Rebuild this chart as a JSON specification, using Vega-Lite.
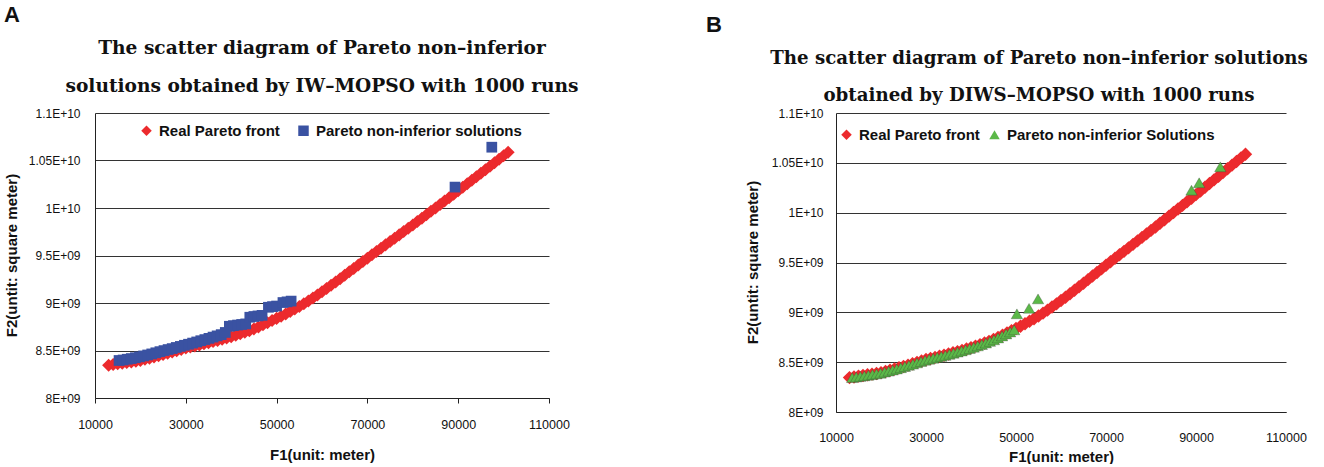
{
  "$schema": "https://vega.github.io/schema/vega-lite/v6.json",
  "background": "white",
  "padding": {"left": 3, "top": 4, "right": 0, "bottom": 0},
  "config": {
    "view": {"stroke": null},
    "axis": {
      "labelFont": "Liberation Sans", "labelFontSize": 12, "labelColor": "#111",
      "titleFont": "Liberation Sans", "titleFontSize": 15, "titleFontWeight": "bold", "titleColor": "#111",
      "gridColor": "#333", "gridWidth": 1, "domainColor": "#222", "tickColor": "#222"
    },
    "title": {"font": "DejaVu Serif", "fontWeight": "bold", "fontSize": 18.6, "color": "#111"},
    "legend": {
      "orient": "none", "direction": "horizontal", "title": null,
      "labelFont": "Liberation Sans", "labelFontWeight": "bold", "labelFontSize": 15, "labelColor": "#111",
      "labelLimit": 400, "symbolSize": 110, "labelOffset": 5, "padding": 0, "symbolStrokeWidth": 0
    }
  },
  "datasets": {
    "front": [
      {"f1": 13000, "f2": 8345000000, "series": "Real Pareto front"},
      {"f1": 14000, "f2": 8352000000, "series": "Real Pareto front"},
      {"f1": 15000, "f2": 8360000000, "series": "Real Pareto front"},
      {"f1": 16000, "f2": 8366000000, "series": "Real Pareto front"},
      {"f1": 17000, "f2": 8373000000, "series": "Real Pareto front"},
      {"f1": 18000, "f2": 8380000000, "series": "Real Pareto front"},
      {"f1": 19000, "f2": 8387000000, "series": "Real Pareto front"},
      {"f1": 20000, "f2": 8395000000, "series": "Real Pareto front"},
      {"f1": 21000, "f2": 8407000000, "series": "Real Pareto front"},
      {"f1": 22000, "f2": 8419000000, "series": "Real Pareto front"},
      {"f1": 23000, "f2": 8431000000, "series": "Real Pareto front"},
      {"f1": 24000, "f2": 8444000000, "series": "Real Pareto front"},
      {"f1": 25000, "f2": 8457000000, "series": "Real Pareto front"},
      {"f1": 26000, "f2": 8470000000, "series": "Real Pareto front"},
      {"f1": 27000, "f2": 8484000000, "series": "Real Pareto front"},
      {"f1": 28000, "f2": 8498000000, "series": "Real Pareto front"},
      {"f1": 29000, "f2": 8512000000, "series": "Real Pareto front"},
      {"f1": 30000, "f2": 8526000000, "series": "Real Pareto front"},
      {"f1": 31000, "f2": 8537000000, "series": "Real Pareto front"},
      {"f1": 32000, "f2": 8548000000, "series": "Real Pareto front"},
      {"f1": 33000, "f2": 8559000000, "series": "Real Pareto front"},
      {"f1": 34000, "f2": 8570000000, "series": "Real Pareto front"},
      {"f1": 35000, "f2": 8582000000, "series": "Real Pareto front"},
      {"f1": 36000, "f2": 8594000000, "series": "Real Pareto front"},
      {"f1": 37000, "f2": 8606000000, "series": "Real Pareto front"},
      {"f1": 38000, "f2": 8618000000, "series": "Real Pareto front"},
      {"f1": 39000, "f2": 8632000000, "series": "Real Pareto front"},
      {"f1": 40000, "f2": 8646000000, "series": "Real Pareto front"},
      {"f1": 41000, "f2": 8661000000, "series": "Real Pareto front"},
      {"f1": 42000, "f2": 8676000000, "series": "Real Pareto front"},
      {"f1": 43000, "f2": 8692000000, "series": "Real Pareto front"},
      {"f1": 44000, "f2": 8709000000, "series": "Real Pareto front"},
      {"f1": 45000, "f2": 8727000000, "series": "Real Pareto front"},
      {"f1": 46000, "f2": 8748000000, "series": "Real Pareto front"},
      {"f1": 47000, "f2": 8770000000, "series": "Real Pareto front"},
      {"f1": 48000, "f2": 8792000000, "series": "Real Pareto front"},
      {"f1": 49000, "f2": 8815000000, "series": "Real Pareto front"},
      {"f1": 50000, "f2": 8838000000, "series": "Real Pareto front"},
      {"f1": 51000, "f2": 8861000000, "series": "Real Pareto front"},
      {"f1": 52000, "f2": 8885000000, "series": "Real Pareto front"},
      {"f1": 53000, "f2": 8910000000, "series": "Real Pareto front"},
      {"f1": 54000, "f2": 8936000000, "series": "Real Pareto front"},
      {"f1": 55000, "f2": 8963000000, "series": "Real Pareto front"},
      {"f1": 56000, "f2": 8992000000, "series": "Real Pareto front"},
      {"f1": 57000, "f2": 9022000000, "series": "Real Pareto front"},
      {"f1": 58000, "f2": 9053000000, "series": "Real Pareto front"},
      {"f1": 59000, "f2": 9085000000, "series": "Real Pareto front"},
      {"f1": 60000, "f2": 9118000000, "series": "Real Pareto front"},
      {"f1": 61000, "f2": 9152000000, "series": "Real Pareto front"},
      {"f1": 62000, "f2": 9186000000, "series": "Real Pareto front"},
      {"f1": 63000, "f2": 9221000000, "series": "Real Pareto front"},
      {"f1": 64000, "f2": 9256000000, "series": "Real Pareto front"},
      {"f1": 65000, "f2": 9292000000, "series": "Real Pareto front"},
      {"f1": 66000, "f2": 9328000000, "series": "Real Pareto front"},
      {"f1": 67000, "f2": 9364000000, "series": "Real Pareto front"},
      {"f1": 68000, "f2": 9400000000, "series": "Real Pareto front"},
      {"f1": 69000, "f2": 9436000000, "series": "Real Pareto front"},
      {"f1": 70000, "f2": 9472000000, "series": "Real Pareto front"},
      {"f1": 71000, "f2": 9507000000, "series": "Real Pareto front"},
      {"f1": 72000, "f2": 9542000000, "series": "Real Pareto front"},
      {"f1": 73000, "f2": 9577000000, "series": "Real Pareto front"},
      {"f1": 74000, "f2": 9612000000, "series": "Real Pareto front"},
      {"f1": 75000, "f2": 9647000000, "series": "Real Pareto front"},
      {"f1": 76000, "f2": 9682000000, "series": "Real Pareto front"},
      {"f1": 77000, "f2": 9717000000, "series": "Real Pareto front"},
      {"f1": 78000, "f2": 9752000000, "series": "Real Pareto front"},
      {"f1": 79000, "f2": 9787000000, "series": "Real Pareto front"},
      {"f1": 80000, "f2": 9822000000, "series": "Real Pareto front"},
      {"f1": 81000, "f2": 9857000000, "series": "Real Pareto front"},
      {"f1": 82000, "f2": 9893000000, "series": "Real Pareto front"},
      {"f1": 83000, "f2": 9929000000, "series": "Real Pareto front"},
      {"f1": 84000, "f2": 9965000000, "series": "Real Pareto front"},
      {"f1": 85000, "f2": 10001000000, "series": "Real Pareto front"},
      {"f1": 86000, "f2": 10037000000, "series": "Real Pareto front"},
      {"f1": 87000, "f2": 10073000000, "series": "Real Pareto front"},
      {"f1": 88000, "f2": 10109000000, "series": "Real Pareto front"},
      {"f1": 89000, "f2": 10145000000, "series": "Real Pareto front"},
      {"f1": 90000, "f2": 10181000000, "series": "Real Pareto front"},
      {"f1": 91000, "f2": 10218000000, "series": "Real Pareto front"},
      {"f1": 92000, "f2": 10255000000, "series": "Real Pareto front"},
      {"f1": 93000, "f2": 10292000000, "series": "Real Pareto front"},
      {"f1": 94000, "f2": 10329000000, "series": "Real Pareto front"},
      {"f1": 95000, "f2": 10366000000, "series": "Real Pareto front"},
      {"f1": 96000, "f2": 10403000000, "series": "Real Pareto front"},
      {"f1": 97000, "f2": 10440000000, "series": "Real Pareto front"},
      {"f1": 98000, "f2": 10477000000, "series": "Real Pareto front"},
      {"f1": 99000, "f2": 10514000000, "series": "Real Pareto front"},
      {"f1": 100000, "f2": 10550000000, "series": "Real Pareto front"},
      {"f1": 101000, "f2": 10586000000, "series": "Real Pareto front"}
    ],
    "iw": [
      {"f1": 15300, "f2": 8395000000, "series": "Pareto non-inferior solutions"},
      {"f1": 16200, "f2": 8400000000, "series": "Pareto non-inferior solutions"},
      {"f1": 17100, "f2": 8408000000, "series": "Pareto non-inferior solutions"},
      {"f1": 18000, "f2": 8415000000, "series": "Pareto non-inferior solutions"},
      {"f1": 18900, "f2": 8424000000, "series": "Pareto non-inferior solutions"},
      {"f1": 19800, "f2": 8433000000, "series": "Pareto non-inferior solutions"},
      {"f1": 20700, "f2": 8443000000, "series": "Pareto non-inferior solutions"},
      {"f1": 21600, "f2": 8453000000, "series": "Pareto non-inferior solutions"},
      {"f1": 22500, "f2": 8464000000, "series": "Pareto non-inferior solutions"},
      {"f1": 23400, "f2": 8476000000, "series": "Pareto non-inferior solutions"},
      {"f1": 24300, "f2": 8488000000, "series": "Pareto non-inferior solutions"},
      {"f1": 25200, "f2": 8499000000, "series": "Pareto non-inferior solutions"},
      {"f1": 26100, "f2": 8510000000, "series": "Pareto non-inferior solutions"},
      {"f1": 27000, "f2": 8520000000, "series": "Pareto non-inferior solutions"},
      {"f1": 27900, "f2": 8532000000, "series": "Pareto non-inferior solutions"},
      {"f1": 28800, "f2": 8543000000, "series": "Pareto non-inferior solutions"},
      {"f1": 29700, "f2": 8555000000, "series": "Pareto non-inferior solutions"},
      {"f1": 30600, "f2": 8566000000, "series": "Pareto non-inferior solutions"},
      {"f1": 31500, "f2": 8578000000, "series": "Pareto non-inferior solutions"},
      {"f1": 32400, "f2": 8590000000, "series": "Pareto non-inferior solutions"},
      {"f1": 33300, "f2": 8603000000, "series": "Pareto non-inferior solutions"},
      {"f1": 34200, "f2": 8615000000, "series": "Pareto non-inferior solutions"},
      {"f1": 35100, "f2": 8628000000, "series": "Pareto non-inferior solutions"},
      {"f1": 36000, "f2": 8641000000, "series": "Pareto non-inferior solutions"},
      {"f1": 36900, "f2": 8654000000, "series": "Pareto non-inferior solutions"},
      {"f1": 37800, "f2": 8667000000, "series": "Pareto non-inferior solutions"},
      {"f1": 38700, "f2": 8690000000, "series": "Pareto non-inferior solutions"},
      {"f1": 39600, "f2": 8755000000, "series": "Pareto non-inferior solutions"},
      {"f1": 40500, "f2": 8762000000, "series": "Pareto non-inferior solutions"},
      {"f1": 41400, "f2": 8768000000, "series": "Pareto non-inferior solutions"},
      {"f1": 42300, "f2": 8774000000, "series": "Pareto non-inferior solutions"},
      {"f1": 43200, "f2": 8780000000, "series": "Pareto non-inferior solutions"},
      {"f1": 44100, "f2": 8850000000, "series": "Pareto non-inferior solutions"},
      {"f1": 45000, "f2": 8858000000, "series": "Pareto non-inferior solutions"},
      {"f1": 45900, "f2": 8864000000, "series": "Pareto non-inferior solutions"},
      {"f1": 46800, "f2": 8870000000, "series": "Pareto non-inferior solutions"},
      {"f1": 48200, "f2": 8955000000, "series": "Pareto non-inferior solutions"},
      {"f1": 49100, "f2": 8962000000, "series": "Pareto non-inferior solutions"},
      {"f1": 50000, "f2": 8968000000, "series": "Pareto non-inferior solutions"},
      {"f1": 51400, "f2": 9005000000, "series": "Pareto non-inferior solutions"},
      {"f1": 52300, "f2": 9012000000, "series": "Pareto non-inferior solutions"},
      {"f1": 53200, "f2": 9020000000, "series": "Pareto non-inferior solutions"},
      {"f1": 89300, "f2": 10220000000, "series": "Pareto non-inferior solutions"},
      {"f1": 97400, "f2": 10640000000, "series": "Pareto non-inferior solutions"}
    ],
    "diws": [
      {"f1": 13600, "f2": 8345000000, "series": "Pareto non-inferior Solutions"},
      {"f1": 14500, "f2": 8351000000, "series": "Pareto non-inferior Solutions"},
      {"f1": 15400, "f2": 8357000000, "series": "Pareto non-inferior Solutions"},
      {"f1": 16300, "f2": 8363000000, "series": "Pareto non-inferior Solutions"},
      {"f1": 17200, "f2": 8369000000, "series": "Pareto non-inferior Solutions"},
      {"f1": 18100, "f2": 8376000000, "series": "Pareto non-inferior Solutions"},
      {"f1": 19000, "f2": 8382000000, "series": "Pareto non-inferior Solutions"},
      {"f1": 19900, "f2": 8389000000, "series": "Pareto non-inferior Solutions"},
      {"f1": 20800, "f2": 8400000000, "series": "Pareto non-inferior Solutions"},
      {"f1": 21700, "f2": 8410000000, "series": "Pareto non-inferior Solutions"},
      {"f1": 22600, "f2": 8421000000, "series": "Pareto non-inferior Solutions"},
      {"f1": 23500, "f2": 8432000000, "series": "Pareto non-inferior Solutions"},
      {"f1": 24400, "f2": 8444000000, "series": "Pareto non-inferior Solutions"},
      {"f1": 25300, "f2": 8456000000, "series": "Pareto non-inferior Solutions"},
      {"f1": 26200, "f2": 8468000000, "series": "Pareto non-inferior Solutions"},
      {"f1": 27100, "f2": 8480000000, "series": "Pareto non-inferior Solutions"},
      {"f1": 28000, "f2": 8493000000, "series": "Pareto non-inferior Solutions"},
      {"f1": 28900, "f2": 8506000000, "series": "Pareto non-inferior Solutions"},
      {"f1": 29800, "f2": 8518000000, "series": "Pareto non-inferior Solutions"},
      {"f1": 30700, "f2": 8529000000, "series": "Pareto non-inferior Solutions"},
      {"f1": 31600, "f2": 8539000000, "series": "Pareto non-inferior Solutions"},
      {"f1": 32500, "f2": 8549000000, "series": "Pareto non-inferior Solutions"},
      {"f1": 33400, "f2": 8558000000, "series": "Pareto non-inferior Solutions"},
      {"f1": 34300, "f2": 8568000000, "series": "Pareto non-inferior Solutions"},
      {"f1": 35200, "f2": 8579000000, "series": "Pareto non-inferior Solutions"},
      {"f1": 36100, "f2": 8590000000, "series": "Pareto non-inferior Solutions"},
      {"f1": 37000, "f2": 8601000000, "series": "Pareto non-inferior Solutions"},
      {"f1": 37900, "f2": 8612000000, "series": "Pareto non-inferior Solutions"},
      {"f1": 38800, "f2": 8624000000, "series": "Pareto non-inferior Solutions"},
      {"f1": 39700, "f2": 8637000000, "series": "Pareto non-inferior Solutions"},
      {"f1": 40600, "f2": 8650000000, "series": "Pareto non-inferior Solutions"},
      {"f1": 41500, "f2": 8663000000, "series": "Pareto non-inferior Solutions"},
      {"f1": 42400, "f2": 8677000000, "series": "Pareto non-inferior Solutions"},
      {"f1": 43300, "f2": 8692000000, "series": "Pareto non-inferior Solutions"},
      {"f1": 44200, "f2": 8708000000, "series": "Pareto non-inferior Solutions"},
      {"f1": 45100, "f2": 8724000000, "series": "Pareto non-inferior Solutions"},
      {"f1": 46000, "f2": 8743000000, "series": "Pareto non-inferior Solutions"},
      {"f1": 46900, "f2": 8763000000, "series": "Pareto non-inferior Solutions"},
      {"f1": 47800, "f2": 8783000000, "series": "Pareto non-inferior Solutions"},
      {"f1": 48700, "f2": 8803000000, "series": "Pareto non-inferior Solutions"},
      {"f1": 49600, "f2": 8824000000, "series": "Pareto non-inferior Solutions"},
      {"f1": 50200, "f2": 8985000000, "series": "Pareto non-inferior Solutions"},
      {"f1": 52900, "f2": 9040000000, "series": "Pareto non-inferior Solutions"},
      {"f1": 54900, "f2": 9135000000, "series": "Pareto non-inferior Solutions"},
      {"f1": 89000, "f2": 10225000000, "series": "Pareto non-inferior Solutions"},
      {"f1": 90700, "f2": 10300000000, "series": "Pareto non-inferior Solutions"},
      {"f1": 95400, "f2": 10460000000, "series": "Pareto non-inferior Solutions"}
    ]
  },
  "spacing": 127,
  "resolve": {
    "scale": {"x": "independent", "y": "independent", "color": "independent", "shape": "independent"},
    "axis": {"x": "independent", "y": "independent"},
    "legend": {"color": "independent", "shape": "independent"}
  },
  "hconcat": [
    {
      "title": {"text": "A", "anchor": "start", "frame": "bounds", "font": "Liberation Sans", "fontSize": 22, "fontWeight": "bold", "offset": 12},
      "vconcat": [
        {
          "width": 454,
          "height": 285,
          "title": {"text": ["The scatter diagram of Pareto non–inferior", "solutions obtained by IW–MOPSO with 1000 runs"], "lineHeight": 38, "offset": 11, "anchor": "middle"},
          "encoding": {
            "x": {"field": "f1", "type": "quantitative",
              "scale": {"domain": [10000, 110000], "nice": false, "zero": false},
              "axis": {"title": "F1(unit: meter)", "values": [10000, 30000, 50000, 70000, 90000, 110000], "format": "d", "grid": false, "ticks": true, "tickSize": 5, "labelPadding": 15, "labelFontSize": 12.5, "labelFlush": false, "titleY": 49}},
            "y": {"field": "f2", "type": "quantitative",
              "scale": {"domain": [8000000000, 11000000000], "nice": false, "zero": false},
              "axis": {"title": "F2(untit: square meter)", "values": [8000000000, 8500000000, 9000000000, 9500000000, 10000000000, 10500000000, 11000000000],
                "labelExpr": "datum.value >= 1e10 ? format(datum.value/1e10, '.3~g') + 'E+10' : format(datum.value/1e9, '.3~g') + 'E+09'",
                "grid": true, "ticks": false, "labelPadding": 15, "titleX": -76, "titleY": 142}},
            "color": {"field": "series", "type": "nominal",
              "scale": {"domain": ["Real Pareto front", "Pareto non-inferior solutions"], "range": ["#EC2A2D", "#3A52A2"]},
              "legend": {"legendX": 44, "legendY": 10, "columnPadding": 16}},
            "shape": {"field": "series", "type": "nominal",
              "scale": {"domain": ["Real Pareto front", "Pareto non-inferior solutions"], "range": ["diamond", "square"]},
              "legend": {"legendX": 44, "legendY": 10, "columnPadding": 16}}
          },
          "layer": [
            {"data": {"name": "front"}, "mark": {"type": "point", "filled": true, "opacity": 1, "size": 170}},
            {"data": {"name": "iw"}, "mark": {"type": "point", "filled": true, "opacity": 1, "size": 115}}
          ]
        }
      ]
    },
    {
      "title": {"text": "B", "anchor": "start", "frame": "bounds", "font": "Liberation Sans", "fontSize": 22, "fontWeight": "bold", "offset": 12, "dx": -39},
      "vconcat": [
        {
          "width": 450,
          "height": 299,
          "title": {"text": ["The scatter diagram of Pareto non–inferior solutions", "obtained by DIWS–MOPSO with 1000 runs"], "fontSize": 18.2, "lineHeight": 37, "offset": 2, "anchor": "middle", "dx": -22},
          "encoding": {
            "x": {"field": "f1", "type": "quantitative",
              "scale": {"domain": [10000, 110000], "nice": false, "zero": false},
              "axis": {"title": "F1(unit: meter)", "values": [10000, 30000, 50000, 70000, 90000, 110000], "format": "d", "grid": false, "ticks": false, "labelPadding": 19, "labelFontSize": 12.5, "labelFlush": false, "titleY": 37}},
            "y": {"field": "f2", "type": "quantitative",
              "scale": {"domain": [8000000000, 11000000000], "nice": false, "zero": false},
              "axis": {"title": "F2(untit: square meter)", "values": [8000000000, 8500000000, 9000000000, 9500000000, 10000000000, 10500000000, 11000000000],
                "labelExpr": "datum.value >= 1e10 ? format(datum.value/1e10, '.3~g') + 'E+10' : format(datum.value/1e9, '.3~g') + 'E+09'",
                "grid": true, "ticks": false, "labelPadding": 13, "titleX": -76, "titleY": 149}},
            "color": {"field": "series", "type": "nominal",
              "scale": {"domain": ["Real Pareto front", "Pareto non-inferior Solutions"], "range": ["#EC2A2D", "#5BB848"]},
              "legend": {"legendX": 3, "legendY": 14, "columnPadding": 7}},
            "shape": {"field": "series", "type": "nominal",
              "scale": {"domain": ["Real Pareto front", "Pareto non-inferior Solutions"], "range": ["diamond", "triangle-up"]},
              "legend": {"legendX": 3, "legendY": 14, "columnPadding": 7}}
          },
          "layer": [
            {"data": {"name": "front"}, "mark": {"type": "point", "filled": true, "opacity": 1, "size": 180}},
            {"data": {"name": "diws"}, "mark": {"type": "point", "filled": true, "opacity": 1, "size": 130, "stroke": "#2a2a2a", "strokeWidth": 0.4, "strokeOpacity": 0.7}}
          ]
        }
      ]
    }
  ]
}
